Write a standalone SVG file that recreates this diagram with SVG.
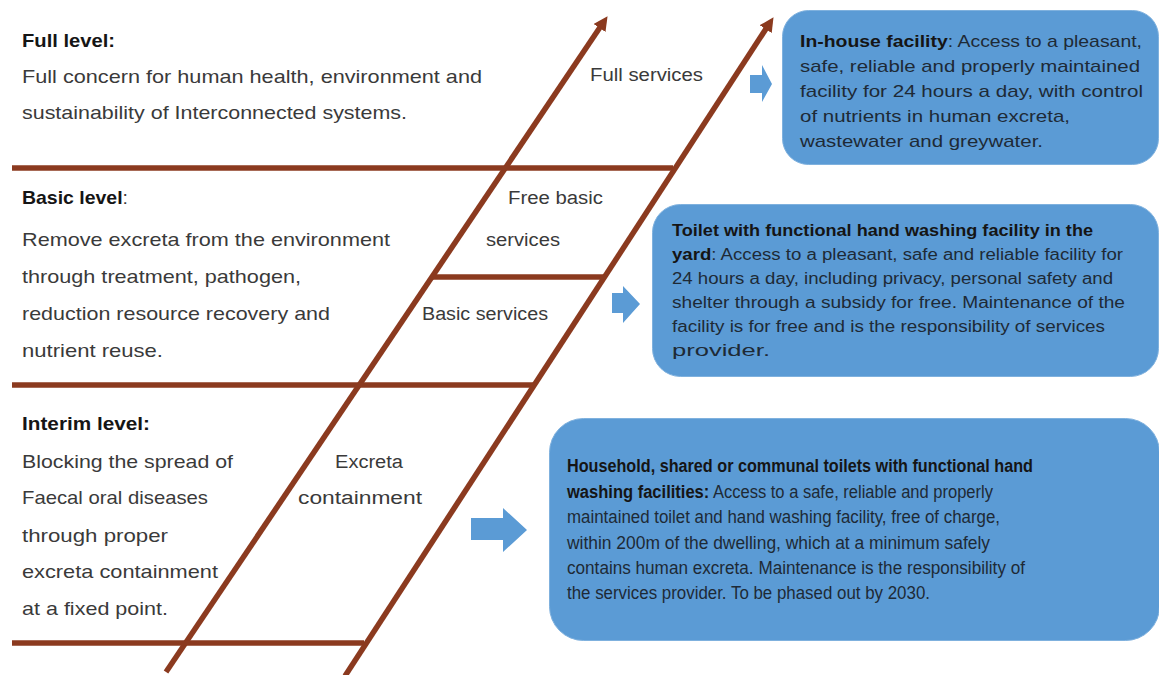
<svg xmlns="http://www.w3.org/2000/svg" width="1159" height="675" viewBox="0 0 1159 675">
  <style>
    .txt { font-family: "Liberation Sans", Arial, sans-serif; fill: #3a3a3a; }
    .lvl { font-size: 19px; }
    .mid { font-size: 18px; }
    .b1 { font-size: 17px; fill: #1e2a36; }
    .b2 { font-size: 16px; fill: #1e2a36; }
    .b3 { font-size: 17.5px; fill: #1e2a36; }
    .bold { font-weight: bold; fill: #151515; }
    .rail { stroke: #8B3A1F; stroke-width: 5.5; fill: none; }
    .box { fill: #5B9BD5; stroke: #7fb1de; stroke-width: 1; }
    .blue-arrow { fill: #5B9BD5; }
  </style>
  <defs>
    <marker id="railHead" viewBox="0 0 10 10" refX="2.3" refY="5" markerWidth="2.6" markerHeight="2.6" orient="auto" markerUnits="strokeWidth">
      <path d="M0,0 L10,5 L0,10 z" fill="#8B3A1F"/>
    </marker>
  </defs>

  <!-- ladder frame: two rising rails and the level dividers -->
  <g id="connectors">
    <line class="rail" x1="166" y1="672" x2="601.4" y2="25.3" marker-end="url(#railHead)"/>
    <line class="rail" x1="345" y1="676" x2="767.5" y2="26.4" marker-end="url(#railHead)"/>
    <line class="rail" x1="12" y1="168" x2="673" y2="168"/>
    <line class="rail" x1="431" y1="277" x2="604" y2="277"/>
    <line class="rail" x1="12" y1="385" x2="533" y2="385"/>
    <line class="rail" x1="12" y1="643" x2="364" y2="643"/>
    <path class="blue-arrow" d="M750,75 H762 V65 L772,84 L762,102 V93 H750 z"/>
    <path class="blue-arrow" d="M612,293 H623 V286 L640,304 L623,323 V313 H612 z"/>
    <path class="blue-arrow" d="M471,518 H503 V508 L527,530 L503,552 V540 H471 z"/>
  </g>

  <!-- level descriptions -->
  <g id="full-level">
    <text class="txt lvl bold" x="22" y="47" textLength="93" lengthAdjust="spacingAndGlyphs">Full level:</text>
    <text class="txt lvl" x="22" y="83" textLength="460" lengthAdjust="spacingAndGlyphs">Full concern for human health, environment and</text>
    <text class="txt lvl" x="22" y="119" textLength="385" lengthAdjust="spacingAndGlyphs">sustainability of Interconnected systems.</text>
  </g>
  <g id="basic-level">
    <text class="txt lvl" x="22" y="204" textLength="106" lengthAdjust="spacingAndGlyphs"><tspan class="bold">Basic level</tspan>:</text>
    <text class="txt lvl" x="22" y="246" textLength="368" lengthAdjust="spacingAndGlyphs">Remove excreta from the environment</text>
    <text class="txt lvl" x="22" y="283" textLength="279" lengthAdjust="spacingAndGlyphs">through treatment, pathogen,</text>
    <text class="txt lvl" x="22" y="320" textLength="308" lengthAdjust="spacingAndGlyphs">reduction resource recovery and</text>
    <text class="txt lvl" x="22" y="357" textLength="141" lengthAdjust="spacingAndGlyphs">nutrient reuse.</text>
  </g>
  <g id="interim-level">
    <text class="txt lvl bold" x="22" y="430" textLength="128" lengthAdjust="spacingAndGlyphs">Interim level:</text>
    <text class="txt lvl" x="22" y="468" textLength="211" lengthAdjust="spacingAndGlyphs">Blocking the spread of</text>
    <text class="txt lvl" x="22" y="504" textLength="186" lengthAdjust="spacingAndGlyphs">Faecal oral diseases</text>
    <text class="txt lvl" x="22" y="542" textLength="146" lengthAdjust="spacingAndGlyphs">through proper</text>
    <text class="txt lvl" x="22" y="578" textLength="196" lengthAdjust="spacingAndGlyphs">excreta containment</text>
    <text class="txt lvl" x="22" y="615" textLength="146" lengthAdjust="spacingAndGlyphs">at a fixed point.</text>
  </g>

  <!-- service labels between the rails -->
  <g id="full-services">
    <text class="txt mid" x="590" y="81" textLength="113" lengthAdjust="spacingAndGlyphs">Full services</text>
  </g>
  <g id="free-basic-services">
    <text class="txt mid" x="508" y="204" textLength="95" lengthAdjust="spacingAndGlyphs">Free basic</text>
    <text class="txt mid" x="486" y="246" textLength="74" lengthAdjust="spacingAndGlyphs">services</text>
  </g>
  <g id="basic-services">
    <text class="txt mid" x="422" y="320" textLength="126" lengthAdjust="spacingAndGlyphs">Basic services</text>
  </g>
  <g id="excreta-containment">
    <text class="txt mid" x="335" y="468" textLength="68" lengthAdjust="spacingAndGlyphs">Excreta</text>
    <text class="txt mid" x="298" y="504" textLength="124" lengthAdjust="spacingAndGlyphs">containment</text>
  </g>

  <!-- facility boxes -->
  <g id="in-house-facility">
    <rect class="box" x="782.5" y="10.5" width="376" height="154" rx="26"/>
    <text class="txt b1" x="800" y="47" textLength="342" lengthAdjust="spacingAndGlyphs"><tspan class="bold">In-house facility</tspan>: Access to a pleasant,</text>
    <text class="txt b1" x="800" y="72" textLength="340" lengthAdjust="spacingAndGlyphs">safe, reliable and properly maintained</text>
    <text class="txt b1" x="800" y="97" textLength="343" lengthAdjust="spacingAndGlyphs">facility for 24 hours a day, with control</text>
    <text class="txt b1" x="800" y="122" textLength="270" lengthAdjust="spacingAndGlyphs">of nutrients in human excreta,</text>
    <text class="txt b1" x="800" y="147" textLength="243" lengthAdjust="spacingAndGlyphs">wastewater and greywater.</text>
  </g>
  <g id="yard-toilet">
    <rect class="box" x="652.5" y="204.5" width="506" height="172" rx="28"/>
    <text class="txt b2 bold" x="672" y="236" textLength="421" lengthAdjust="spacingAndGlyphs">Toilet with functional hand washing facility in the</text>
    <text class="txt b2" x="672" y="260" textLength="451" lengthAdjust="spacingAndGlyphs"><tspan class="bold">yard</tspan>: Access to a pleasant, safe and reliable facility for</text>
    <text class="txt b2" x="672" y="284" textLength="441" lengthAdjust="spacingAndGlyphs">24 hours a day, including privacy, personal safety and</text>
    <text class="txt b2" x="672" y="308" textLength="453" lengthAdjust="spacingAndGlyphs">shelter through a subsidy for free. Maintenance of the</text>
    <text class="txt b2" x="672" y="332" textLength="433" lengthAdjust="spacingAndGlyphs">facility is for free and is the responsibility of services</text>
    <text class="txt b2" x="672" y="356" textLength="98" lengthAdjust="spacingAndGlyphs">provider.</text>
  </g>
  <g id="shared-toilets">
    <rect class="box" x="549.5" y="418.5" width="610" height="222" rx="34"/>
    <text class="txt b3 bold" x="567" y="472" textLength="466" lengthAdjust="spacingAndGlyphs">Household, shared or communal toilets with functional hand</text>
    <text class="txt b3" x="567" y="498" textLength="426" lengthAdjust="spacingAndGlyphs"><tspan class="bold">washing facilities:</tspan> Access to a safe, reliable and properly</text>
    <text class="txt b3" x="567" y="523" textLength="433" lengthAdjust="spacingAndGlyphs">maintained toilet and hand washing facility, free of charge,</text>
    <text class="txt b3" x="567" y="549" textLength="423" lengthAdjust="spacingAndGlyphs">within 200m of the dwelling, which at a minimum safely</text>
    <text class="txt b3" x="567" y="574" textLength="458" lengthAdjust="spacingAndGlyphs">contains human excreta. Maintenance is the responsibility of</text>
    <text class="txt b3" x="567" y="599" textLength="363" lengthAdjust="spacingAndGlyphs">the services provider. To be phased out by 2030.</text>
  </g>
</svg>
